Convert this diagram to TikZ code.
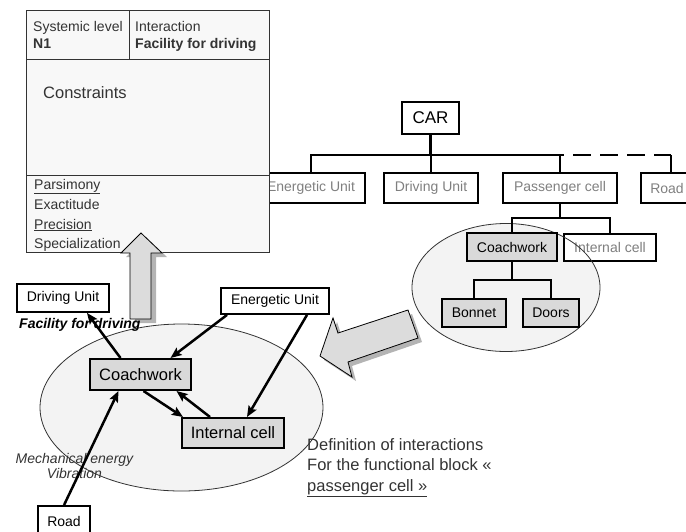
\documentclass[tikz,border=0pt]{standalone}
\usepackage{fontspec}
\setmainfont{Liberation Sans}
\usetikzlibrary{arrows.meta}
\definecolor{panelgray}{HTML}{F8F8F8}
\definecolor{zonegray}{HTML}{F3F3F3}
\definecolor{partgray}{HTML}{D9D9D9}
\definecolor{arrowgray}{HTML}{DCDCDC}
\definecolor{shadowgray}{HTML}{B4B4B4}
\definecolor{labelgray}{HTML}{7F7F7F}
\definecolor{inkgray}{HTML}{333333}
\newcommand{\smallfnt}{\fontsize{14}{16}\selectfont}
\newcommand{\bigfnt}{\fontsize{16.5}{19}\selectfont}
\tikzset{
  unitbox/.style={draw, line width=2.6pt, text=labelgray, inner sep=0pt,
    minimum height=30pt, font=\smallfnt},
  partbox/.style={draw, line width=2pt, fill=partgray, inner sep=0pt, font=\smallfnt},
  linkbox/.style={draw, line width=1.8pt, fill=white, inner sep=0pt, font=\smallfnt},
  treeline/.style={line width=2.4pt},
  paneltext/.style={anchor=base west, inner sep=0pt, text=inkgray, font=\smallfnt},
  flow/.style={line width=2.5pt, -{Stealth[length=11pt, width=9pt, inset=2pt]}},
  bigarrow/.style={fill=arrowgray, draw=black, line width=0.8pt, line join=miter},
}
\begin{document}
\begin{tikzpicture}[x=1pt, y=-1pt]
  \useasboundingbox (0,0) rectangle (686,531);
  \clip (0,0) rectangle (686,531);

  % breakdown of the car
  \node[unitbox, text=black, line width=2.2pt, minimum width=57pt, minimum height=32pt,
    font=\fontsize{17}{20}\selectfont] (car) at (430.5,118) {CAR};
  \node[unitbox, minimum width=108pt] (eu1) at (311,188) {Energetic Unit};
  \node[unitbox, minimum width=94pt] (dr1) at (431,188) {Driving Unit};
  \node[unitbox, minimum width=114pt] (pc1) at (560,188) {Passenger cell};
  \node[unitbox, minimum width=52pt] (ro1) at (667,188) {Road};
  \coordinate (bus) at (0,155);
  \coordinate (sub) at (0,218);
  \coordinate (fork) at (0,280);
  \draw[treeline] (car.south) -- (car.south |- bus);
  \draw[treeline] (eu1.north) |- ([xshift=-14pt]pc1.north |- bus);
  \draw[treeline] (dr1.north) -- (dr1.north |- bus);
  \draw[treeline] (pc1.north) -- (pc1.north |- bus);
  \draw[treeline, dash pattern=on 18pt off 9pt] ([xshift=-14pt]pc1.north |- bus) -- ([xshift=4pt]ro1.north |- bus);
  \draw[treeline] ([xshift=4pt]ro1.north) -- ([xshift=4pt]ro1.north |- bus);

  % passenger cell zone
  \fill[zonegray] (506,287.5) ellipse [x radius=94pt, y radius=64pt];
  \node[draw, fill=white, text=labelgray, line width=1.8pt, inner sep=0pt, font=\smallfnt,
    minimum width=92pt, minimum height=27pt] (ic1) at (610,247.5) {Internal cell};
  \draw[line width=0.8pt, inkgray] (506,287.5) ellipse [x radius=94pt, y radius=64pt];
  \node[partbox, minimum width=90pt, minimum height=28pt] (cw1) at (512,247) {Coachwork};
  \node[partbox, minimum width=64pt, minimum height=28pt] (bo1) at (474,313) {Bonnet};
  \node[partbox, minimum width=56pt, minimum height=28pt] (do1) at (551,313) {Doors};
  \draw[treeline] (pc1.south) -- (pc1.south |- sub);
  \draw[treeline] (cw1.north) |- (ic1.north |- sub) -- (ic1.north);
  \draw[treeline] (cw1.south) -- (cw1.south |- fork);
  \draw[treeline] (bo1.north) |- (do1.north |- fork) -- (do1.north);

  % interaction sheet
  \fill[panelgray] (26,10) rectangle (269,252);
  \draw[line width=1pt, inkgray] (26,10) rectangle (269,252);
  \draw[line width=1pt, inkgray] (26,59) -- (269,59);
  \draw[line width=1pt, inkgray] (129,10) -- (129,59);
  \draw[line width=1pt, inkgray] (26,175) -- (269,175);
  \node[paneltext] (lvl) at (33,31) {Systemic level};
  \node[paneltext, font=\bfseries\smallfnt] (lvn) at (33,48) {N1};
  \node[paneltext] (itr) at (135,31) {Interaction};
  \node[paneltext, font=\bfseries\smallfnt] (itn) at (135,48) {Facility for driving};
  \node[paneltext, font=\fontsize{16.5}{19}\selectfont] (cst) at (43,98) {Constraints};
  \node[paneltext] (par) at (34,189) {\underline{Parsimony}};
  \node[paneltext] (exa) at (34,209) {Exactitude};
  \node[paneltext] (pre) at (34,229) {\underline{Precision}};
  \node[paneltext] (spe) at (34,248) {Specialization};

  % block arrows
  \fill[shadowgray, shift={(5,4)}] (141,233) -- (162,253) -- (151,253) -- (151,319)
    -- (130,319) -- (130,253) -- (121,253) -- cycle;
  \draw[bigarrow] (141,233) -- (162,253) -- (151,253) -- (151,319)
    -- (130,319) -- (130,253) -- (121,253) -- cycle;
  \fill[shadowgray, shift={(4,4)}] (320,356) -- (333,318) -- (338,333) -- (408,310)
    -- (418,338) -- (348,362) -- (352,377) -- cycle;
  \draw[bigarrow] (320,356) -- (333,318) -- (338,333) -- (408,310)
    -- (418,338) -- (348,362) -- (352,377) -- cycle;

  % interactions of the passenger cell
  \fill[zonegray] (181.5,407.5) ellipse [x radius=141.5pt, y radius=83.5pt];
  \draw[line width=0.8pt, inkgray] (181.5,407.5) ellipse [x radius=141.5pt, y radius=83.5pt];
  \node[linkbox, minimum width=92pt, minimum height=28pt] (du2) at (63,298) {Driving Unit};
  \node[linkbox, minimum width=108pt, minimum height=26pt] (eu2) at (275,301) {Energetic Unit};
  \node[partbox, font=\bigfnt, minimum width=101pt, minimum height=31pt] (cw2) at (140.5,374.5) {Coachwork};
  \node[partbox, font=\bigfnt, minimum width=102pt, minimum height=30pt] (ic2) at (233,433) {Internal cell};
  \node[linkbox, minimum width=52pt, minimum height=30pt] (ro2) at (64,521) {Road};
  \node[anchor=base west, inner sep=0pt, font=\bfseries\itshape\smallfnt] (fac) at (19,328) {Facility for driving};
  \node[anchor=base, inner sep=0pt, text=inkgray, font=\itshape\smallfnt] (mech1) at (74.5,463) {Mechanical energy};
  \node[anchor=base, inner sep=0pt, text=inkgray, font=\itshape\smallfnt] (mech2) at (74.5,478) {Vibration};
  \draw[flow] ([xshift=-20pt]cw2.north) -- ([xshift=24pt]du2.south);
  \draw[flow] ([xshift=-48pt]eu2.south) -- ([xshift=30pt]cw2.north);
  \draw[flow] ([xshift=32pt]eu2.south) -- ([xshift=14pt]ic2.north);
  \draw[flow] ([xshift=3pt]cw2.south) -- ([xshift=2pt]ic2.north west);
  \draw[flow] ([xshift=-23pt]ic2.north) -- ([xshift=36pt]cw2.south);
  \draw[flow] (ro2.north) -- ([xshift=-22pt]cw2.south);

  \node[anchor=base west, inner sep=0pt, text=inkgray, font=\bigfnt] (def1) at (307,450) {Definition of interactions};
  \node[anchor=base west, inner sep=0pt, text=inkgray, font=\bigfnt] (def2) at (307,470) {For the functional block «};
  \node[anchor=base west, inner sep=0pt, text=inkgray, font=\bigfnt] (def3) at (307,491) {\underline{passenger cell »}};
\end{tikzpicture}
\end{document}
